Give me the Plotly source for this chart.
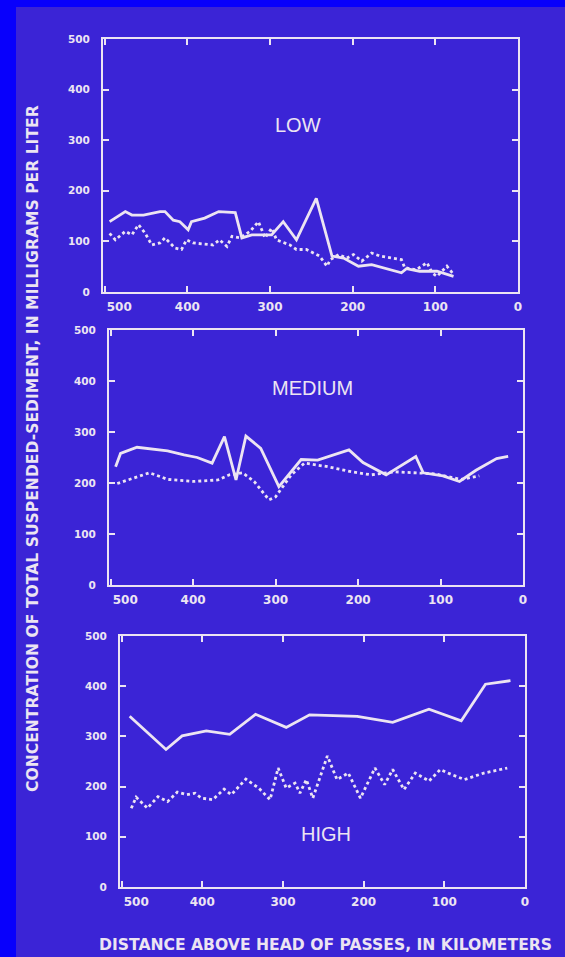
import plotly.graph_objects as go

# ---------------- data ----------------
low_solid_x = [494, 475, 467, 453, 433, 427, 417, 409, 399, 395, 379, 362, 342, 334, 322, 298, 284, 268, 244, 225, 211, 193, 177, 141, 135, 119, 98, 78]
low_solid_y = [139, 159, 152, 152, 159, 159, 142, 139, 123, 139, 146, 159, 157, 107, 113, 113, 139, 103, 185, 71, 67, 51, 54, 38, 46, 41, 41, 31]
low_dot_x = [494, 487, 475, 467, 459, 451, 443, 433, 427, 415, 407, 401, 393, 369, 361, 352, 346, 336, 324, 314, 306, 298, 292, 276, 268, 256, 240, 231, 227, 217, 207, 199, 189, 177, 167, 151, 141, 137, 123, 110, 104, 98, 86, 78]
low_dot_y = [116, 103, 120, 113, 133, 116, 93, 97, 107, 87, 84, 103, 97, 93, 103, 90, 110, 107, 120, 139, 107, 126, 103, 93, 84, 84, 71, 51, 64, 74, 67, 74, 61, 77, 71, 67, 64, 48, 44, 58, 38, 31, 51, 35]

med_solid_x = [494, 488, 468, 455, 431, 411, 395, 377, 362, 348, 336, 318, 296, 269, 249, 211, 194, 166, 130, 121, 97, 77, 57, 32, 18]
med_solid_y = [232, 258, 270, 268, 263, 255, 250, 239, 291, 206, 292, 268, 193, 246, 245, 265, 240, 216, 252, 220, 214, 203, 225, 248, 252]
med_dot_x = [492, 476, 453, 439, 431, 399, 370, 356, 340, 326, 318, 308, 300, 281, 265, 237, 208, 184, 156, 123, 107, 75, 53]
med_dot_y = [199, 207, 220, 212, 207, 203, 206, 216, 220, 203, 186, 167, 173, 216, 239, 232, 222, 216, 222, 219, 218, 207, 214]

high_solid_x = [490, 445, 425, 395, 366, 334, 296, 267, 208, 164, 119, 79, 49, 18]
high_solid_y = [340, 274, 301, 311, 304, 344, 318, 343, 340, 328, 354, 331, 404, 411]
high_dot_x = [488, 482, 468, 455, 443, 431, 419, 409, 401, 387, 373, 364, 346, 330, 316, 306, 296, 285, 279, 271, 263, 245, 233, 219, 204, 186, 174, 164, 150, 136, 119, 105, 91, 75, 51, 22]
high_dot_y = [157, 179, 157, 180, 170, 189, 184, 187, 177, 174, 195, 184, 215, 197, 174, 237, 197, 207, 187, 214, 177, 261, 214, 227, 177, 237, 204, 234, 194, 227, 211, 234, 224, 214, 227, 237]

panel_names = ["LOW", "MEDIUM", "HIGH"]
x_ticks = [500, 400, 300, 200, 100, 0]
x_tick_text = ["\u00a0" * 7 + "500", "400", "300", "200", "100", "0"]
y_ticks = [0, 100, 200, 300, 400, 500]
y_title = "CONCENTRATION OF TOTAL SUSPENDED-SEDIMENT, IN MILLIGRAMS PER LITER"
x_title = "DISTANCE ABOVE HEAD OF PASSES, IN KILOMETERS"

# ---------------- style ----------------
W, H = 565, 957
BG = "#3b24d6"
BORDER = "#0800fc"
INK = "#ece4f2"
FONT = "DejaVu Sans, Liberation Sans, Arial, sans-serif"
FONT2 = "Liberation Sans, Arial, sans-serif"

def px_x(p):
    return p / W

def px_y(p):
    return 1 - p / H

panels = [
    dict(x0=103, x1=518, y0=39, y1=292, sx=low_solid_x, sy=low_solid_y, dx=low_dot_x, dy=low_dot_y, lab=(298, 125)),
    dict(x0=109, x1=523, y0=330, y1=585, sx=med_solid_x, sy=med_solid_y, dx=med_dot_x, dy=med_dot_y, lab=(312, 388)),
    dict(x0=120, x1=525, y0=636, y1=887, sx=high_solid_x, sy=high_solid_y, dx=high_dot_x, dy=high_dot_y, lab=(326, 834)),
]

fig = go.Figure()
layout_axes = {}
annotations = []
for i, p in enumerate(panels):
    n = "" if i == 0 else str(i + 1)
    xa, ya = "x" + n, "y" + n
    fig.add_trace(go.Scatter(x=p["sx"], y=p["sy"], mode="lines", xaxis=xa, yaxis=ya,
                             line=dict(color=INK, width=2.8), showlegend=False, hoverinfo="skip"))
    fig.add_trace(go.Scatter(x=p["dx"], y=p["dy"], mode="lines", xaxis=xa, yaxis=ya,
                             line=dict(color=INK, width=2.8, dash="dot"), showlegend=False, hoverinfo="skip"))
    common = dict(showline=True, linecolor=INK, linewidth=2, mirror="ticks", ticks="inside",
                  ticklen=6, tickwidth=2, tickcolor=INK, showgrid=False, zeroline=False,
                  automargin=False)
    layout_axes["xaxis" + n] = dict(common, domain=[px_x(p["x0"]), px_x(p["x1"])], range=[502, 0],
                                    tickvals=x_ticks, ticktext=x_tick_text,
                                    tickfont=dict(family=FONT, size=12, color=INK, weight="bold"),
                                    anchor=ya, ticklabelstandoff=3)
    layout_axes["yaxis" + n] = dict(common, domain=[px_y(p["y1"]), px_y(p["y0"])], range=[0, 500],
                                    tickvals=y_ticks, ticktext=[str(v) for v in y_ticks],
                                    tickfont=dict(family=FONT, size=10.5, color=INK, weight="bold"),
                                    anchor=xa, ticklabelstandoff=9)
    annotations.append(dict(text=panel_names[i], x=px_x(p["lab"][0]), y=px_y(p["lab"][1]),
                            xref="paper", yref="paper", showarrow=False, xanchor="center", yanchor="middle",
                            font=dict(family=FONT2, size=20, color=INK)))

annotations.append(dict(text=y_title, x=px_x(33), y=px_y(449), xref="paper", yref="paper",
                        textangle=-90, showarrow=False, xanchor="center", yanchor="middle",
                        font=dict(family=FONT, size=15.6, color=INK, weight="bold")))
annotations.append(dict(text=x_title, x=px_x(325), y=px_y(945), xref="paper", yref="paper",
                        showarrow=False, xanchor="center", yanchor="middle",
                        font=dict(family=FONT, size=15.6, color=INK, weight="bold")))

fig.update_layout(
    width=W, height=H, margin=dict(l=0, r=0, t=0, b=0, autoexpand=False),
    paper_bgcolor=BORDER, plot_bgcolor="rgba(0,0,0,0)",
    annotations=annotations,
    shapes=[dict(type="rect", xref="paper", yref="paper", x0=px_x(16), x1=1, y0=0, y1=px_y(7),
                 fillcolor=BG, line=dict(width=0), layer="below")],
    **layout_axes,
)

fig.write_html("out.html", config={"displayModeBar": False},
               post_script="document.body.style.margin='0';document.body.style.overflow='hidden';")
